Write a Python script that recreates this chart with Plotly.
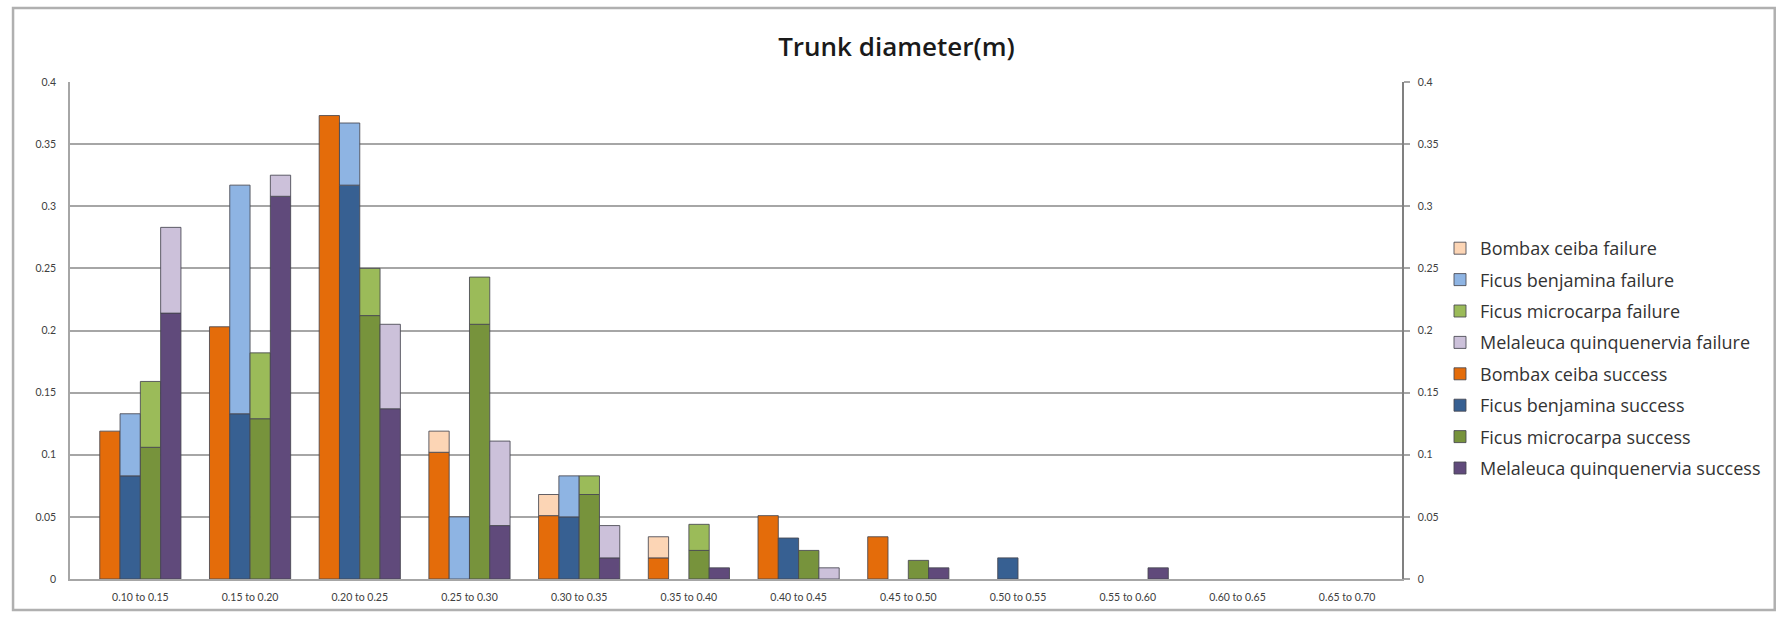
import plotly.graph_objects as go

# Trunk diameter classes (m)
categories = ["0.10 to 0.15", "0.15 to 0.20", "0.20 to 0.25", "0.25 to 0.30",
              "0.30 to 0.35", "0.35 to 0.40", "0.40 to 0.45", "0.45 to 0.50",
              "0.50 to 0.55", "0.55 to 0.60", "0.60 to 0.65", "0.65 to 0.70"]

species = ["Bombax ceiba", "Ficus benjamina", "Ficus microcarpa", "Melaleuca quinquenervia"]

# Proportion of trees per class: success part and failure part (stacked)
bombax_success = [0.119, 0.203, 0.373, 0.102, 0.051, 0.017, 0.051, 0.034, 0, 0, 0, 0]
bombax_failure = [0, 0, 0, 0.017, 0.017, 0.017, 0, 0, 0, 0, 0, 0]
benjamina_success = [0.083, 0.133, 0.317, 0, 0.050, 0, 0.033, 0, 0.017, 0, 0, 0]
benjamina_failure = [0.050, 0.184, 0.050, 0.050, 0.033, 0, 0, 0, 0, 0, 0, 0]
microcarpa_success = [0.106, 0.129, 0.212, 0.205, 0.068, 0.023, 0.023, 0.015, 0, 0, 0, 0]
microcarpa_failure = [0.053, 0.053, 0.038, 0.038, 0.015, 0.021, 0, 0, 0, 0, 0, 0]
melaleuca_success = [0.214, 0.308, 0.137, 0.043, 0.017, 0.009, 0, 0.009, 0, 0.009, 0, 0]
melaleuca_failure = [0.069, 0.017, 0.068, 0.068, 0.026, 0, 0.009, 0, 0, 0, 0, 0]

y_ticks = [0, 0.05, 0.1, 0.15, 0.2, 0.25, 0.3, 0.35, 0.4]
y_tick_text = ["0", "0.05", "0.1", "0.15", "0.2", "0.25", "0.3", "0.35", "0.4"]

success = [bombax_success, benjamina_success, microcarpa_success, melaleuca_success]
failure = [bombax_failure, benjamina_failure, microcarpa_failure, melaleuca_failure]
success_colors = ["#E46C0A", "#376092", "#77933C", "#604A7B"]
failure_colors = ["#FCD5B5", "#8EB4E3", "#9BBB59", "#CCC1DA"]

TICK_FONT = "Lato"
TEXT_FONT = "Open Sans"
outline = dict(color="rgba(70,70,80,0.85)", width=1)


def nonzero(values):
    # empty segments are left undrawn so no outline shows on the baseline
    return [v if v else None for v in values]


fig = go.Figure()
for i, name in enumerate(species):
    fig.add_trace(go.Bar(
        x=categories, y=nonzero(success[i]), name=f"{name} success",
        offsetgroup=str(i), legendgroup=f"s{i}", legendrank=10 + i,
        marker=dict(color=success_colors[i], line=outline),
    ))
    fig.add_trace(go.Bar(
        x=categories, y=nonzero(failure[i]), base=success[i], name=f"{name} failure",
        offsetgroup=str(i), legendgroup=f"f{i}", legendrank=i,
        marker=dict(color=failure_colors[i], line=outline),
    ))

# Mirror axis on the right
fig.add_trace(go.Scatter(x=[categories[0]], y=[0], yaxis="y2", mode="markers",
                         marker=dict(opacity=0), showlegend=False, hoverinfo="skip"))

L, R, T, B = 70, 374, 82, 40
W, H = 1777, 619
pw, ph = W - L - R, H - T - B


def px(x):
    return (x - L) / pw


def py(y):
    return (H - B - y) / ph


axis_font = dict(family=TICK_FONT, size=10.5, color="#404040")

fig.update_layout(
    width=W, height=H,
    margin=dict(l=L, r=R, t=T, b=B),
    paper_bgcolor="white", plot_bgcolor="white",
    barmode="group", bargap=0.26, bargroupgap=0,
    title=dict(text="Trunk diameter(m)", x=0.5045, xref="container", xanchor="center",
               y=1 - 47 / H, yanchor="middle",
               font=dict(family=TEXT_FONT, size=26, color="#1a1a1a", weight=600)),
    xaxis=dict(type="category", tickfont=axis_font, showgrid=False,
               showline=True, linecolor="#A6A6A6", linewidth=1.5,
               ticks="", ticklabelstandoff=8),
    yaxis=dict(range=[0, 0.4], tickvals=y_ticks, ticktext=y_tick_text,
               tickfont=axis_font, showgrid=True, gridcolor="#A6A6A6", gridwidth=1.5,
               showline=True, linecolor="#A6A6A6", linewidth=1.5,
               zeroline=False, ticks="", ticklabelstandoff=10),
    yaxis2=dict(range=[0, 0.4], tickvals=y_ticks, ticktext=y_tick_text,
                overlaying="y", side="right", tickfont=axis_font, showgrid=False,
                showline=True, linecolor="#808080", linewidth=1.5,
                ticks="outside", ticklen=6, tickcolor="#A6A6A6", tickwidth=1.5,
                zeroline=False, ticklabelstandoff=6),
    legend=dict(x=px(1440), y=py(230), xanchor="left", yanchor="top",
                traceorder="grouped", tracegroupgap=5,
                font=dict(family=TEXT_FONT, size=18, color="#333333"),
                itemwidth=30, bgcolor="rgba(0,0,0,0)"),
    showlegend=True,
    shapes=[dict(type="rect", xref="paper", yref="paper",
                 x0=px(13), x1=px(1776), y0=py(610), y1=py(8),
                 line=dict(color="#B0B0B0", width=2.5), layer="below")],
)

fig.write_html("out.html")
